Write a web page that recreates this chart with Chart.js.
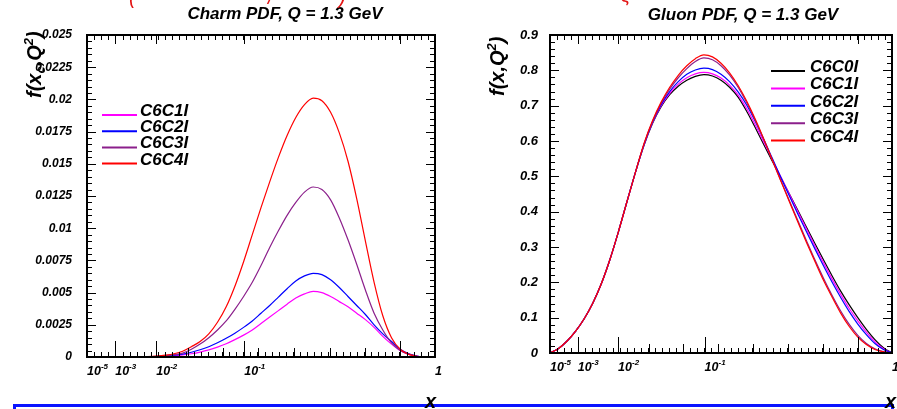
<!DOCTYPE html>
<html>
<head>
<meta charset="utf-8">
<title>Charm and gluon PDF, Q = 1.3 GeV</title>
<script src="https://cdn.jsdelivr.net/npm/chart.js@4.4.1/dist/chart.umd.min.js"></script>
<style>
  html, body { margin: 0; padding: 0; background: #fff; }
  body { position: relative; width: 897px; height: 409px; overflow: hidden; }
  canvas { display: block; }
  .pane { position: absolute; top: 0; height: 409px; z-index: 2; }
  #charmPane { left: 0; width: 448px; }
  #gluonPane { left: 448px; width: 449px; }
  #box { position: absolute; left: 13px; top: 404px; width: 881px; height: 20px;
         border: 3px solid #0a14ff; box-sizing: border-box; z-index: 1; }
  .note { position: absolute; z-index: 3; color: #e31414;
          font: italic 20px "Liberation Sans", Arial, sans-serif; line-height: 20px; }
</style>
</head>
<body>
<div class="note" style="left:129px;top:-13px">(</div>
<div class="note" style="left:268px;top:-13px">/</div>
<div class="note" style="left:339px;top:-13px">)</div>
<div class="note" style="left:621px;top:-15px">&#x3b6;</div>
<div id="box"></div>
<div class="pane" id="charmPane"><canvas id="charmChart" width="448" height="409"></canvas></div>
<div class="pane" id="gluonPane"><canvas id="gluonChart" width="449" height="409"></canvas></div>
<script>
// sample positions along the x axis, in axis units (0 = left edge, 1 = x of 1)
const uGrid = [0, 0.025, 0.05, 0.075, 0.1, 0.125, 0.15, 0.175, 0.2, 0.225,
    0.25, 0.275, 0.3, 0.325, 0.35, 0.375, 0.4, 0.425, 0.45, 0.475,
    0.5, 0.525, 0.55, 0.575, 0.6, 0.625, 0.65, 0.675, 0.7, 0.725,
    0.75, 0.775, 0.8, 0.825, 0.85, 0.875, 0.9, 0.925, 0.95, 0.975, 1];

// x axis labels (10^exp) and their positions
const xTickPos = [0, 0.081, 0.199, 0.452, 1];
const xTickBase = ['10', '10', '10', '10', '1'];
const xTickExp = ['-5', '-3', '-2', '-1', ''];
const xLongTicks = [0.081, 0.199, 0.452, 0.9];
const xMidTicks = [0.29, 0.39, 0.49, 0.595, 0.697, 0.798];

const charmYTicks = [0, 0.0025, 0.005, 0.0075, 0.01, 0.0125, 0.015, 0.0175, 0.02, 0.0225, 0.025];
const charmYLabels = ['0', '0.0025', '0.005', '0.0075', '0.01', '0.0125', '0.015', '0.0175', '0.02', '0.0225', '0.025'];
const gluonYTicks = [0, 0.1, 0.2, 0.3, 0.4, 0.5, 0.6, 0.7, 0.8, 0.9];
const gluonYLabels = ['0', '0.1', '0.2', '0.3', '0.4', '0.5', '0.6', '0.7', '0.8', '0.9'];

// charm PDF
const charmSets = ['C6C1I', 'C6C2I', 'C6C3I', 'C6C4I'];
const charmC1 = [0, 0, 0, 0, 0, 0, 0.00001, 0.00002, 0.00003, 0.00006,
    0.0001, 0.00016, 0.00025, 0.00038, 0.00055, 0.00077, 0.00103, 0.00135, 0.0017, 0.0021,
    0.0026, 0.0031, 0.0036, 0.0041, 0.00458, 0.0049, 0.0051, 0.0050, 0.0047, 0.0043,
    0.0039, 0.0034, 0.0029, 0.0023, 0.0016, 0.0010, 0.0005, 0.0002, 0.00005, 0, 0];
const charmC2 = [0, 0, 0, 0, 0, 0, 0.00001, 0.00002, 0.00004, 0.00008,
    0.00014, 0.00023, 0.00037, 0.00056, 0.0008, 0.0011, 0.00145, 0.00185, 0.0023, 0.0028,
    0.0034, 0.0040, 0.00465, 0.0053, 0.0059, 0.0063, 0.0065, 0.0064, 0.0060, 0.0054,
    0.0047, 0.0040, 0.0033, 0.0025, 0.0018, 0.0012, 0.0006, 0.00025, 0.00006, 0, 0];
const charmC3 = [0, 0, 0, 0, 0, 0, 0.00001, 0.00002, 0.00005, 0.0001,
    0.00018, 0.0003, 0.0006, 0.001, 0.0015, 0.0021, 0.0028, 0.0037, 0.0047, 0.0058,
    0.0071, 0.0085, 0.0098, 0.0110, 0.0120, 0.0128, 0.0132, 0.0130, 0.0122, 0.0108,
    0.0091, 0.0072, 0.0052, 0.0034, 0.0021, 0.0011, 0.0005, 0.0002, 0.00005, 0, 0];
const charmC4 = [0, 0, 0, 0, 0, 0, 0.00001, 0.00003, 0.00007, 0.00014,
    0.00025, 0.00045, 0.0008, 0.0012, 0.0018, 0.0027, 0.0039, 0.0055, 0.0074, 0.0095,
    0.0116, 0.0136, 0.0155, 0.0172, 0.0186, 0.0196, 0.0201, 0.0199, 0.0190, 0.0174,
    0.0152, 0.0123, 0.0090, 0.0058, 0.0032, 0.0015, 0.0006, 0.0002, 0.00004, 0, 0];

// gluon PDF
const gluonSets = ['C6C0I', 'C6C1I', 'C6C2I', 'C6C3I', 'C6C4I'];
const gluonC0 = [0, 0.013, 0.034, 0.062, 0.097, 0.141, 0.196, 0.264, 0.343, 0.428,
    0.512, 0.588, 0.650, 0.697, 0.731, 0.755, 0.772, 0.783, 0.788, 0.784,
    0.772, 0.752, 0.724, 0.684, 0.638, 0.590, 0.543, 0.497, 0.450, 0.403,
    0.356, 0.309, 0.263, 0.218, 0.175, 0.136, 0.100, 0.067, 0.038, 0.015, 0];
const gluonC1 = [0, 0.013, 0.034, 0.062, 0.097, 0.141, 0.196, 0.264, 0.343, 0.428,
    0.512, 0.589, 0.652, 0.700, 0.735, 0.761, 0.779, 0.790, 0.794, 0.790,
    0.778, 0.758, 0.730, 0.692, 0.646, 0.597, 0.548, 0.498, 0.449, 0.400,
    0.351, 0.302, 0.255, 0.209, 0.166, 0.126, 0.091, 0.059, 0.032, 0.012, 0];
const gluonC2 = [0, 0.013, 0.034, 0.062, 0.097, 0.141, 0.196, 0.264, 0.343, 0.428,
    0.512, 0.590, 0.654, 0.703, 0.740, 0.768, 0.789, 0.801, 0.806, 0.802,
    0.789, 0.768, 0.739, 0.702, 0.656, 0.605, 0.551, 0.497, 0.444, 0.393,
    0.343, 0.294, 0.246, 0.200, 0.157, 0.117, 0.082, 0.052, 0.027, 0.010, 0];
const gluonC3 = [0, 0.013, 0.034, 0.062, 0.097, 0.141, 0.196, 0.264, 0.343, 0.428,
    0.512, 0.592, 0.656, 0.707, 0.747, 0.779, 0.805, 0.825, 0.835, 0.830,
    0.813, 0.787, 0.752, 0.709, 0.659, 0.604, 0.546, 0.488, 0.431, 0.374,
    0.318, 0.263, 0.211, 0.163, 0.119, 0.081, 0.050, 0.027, 0.012, 0.004, 0];
const gluonC4 = [0, 0.013, 0.034, 0.062, 0.097, 0.141, 0.196, 0.264, 0.343, 0.428,
    0.512, 0.593, 0.658, 0.710, 0.752, 0.786, 0.813, 0.833, 0.844, 0.838,
    0.820, 0.793, 0.757, 0.713, 0.662, 0.606, 0.546, 0.487, 0.428, 0.370,
    0.313, 0.258, 0.205, 0.158, 0.113, 0.075, 0.045, 0.024, 0.010, 0.003, 0];

const FAMILY = '"Liberation Sans", Arial, Helvetica, sans-serif';
const font = (size) => `italic bold ${size}px ${FAMILY}`;

function curve(label, values, color, order) {
    return {
        label: label,
        data: values.map((v, i) => ({ x: uGrid[i], y: v })),
        borderColor: color,
        backgroundColor: color,
        borderWidth: 1.2,
        pointRadius: 0,
        fill: false,
        cubicInterpolationMode: 'monotone',
        order: order
    };
}

// draws text pieces one after another (for sub/superscripts)
function richText(ctx, parts, x, y) {
    ctx.textAlign = 'left';
    ctx.textBaseline = 'alphabetic';
    let cx = x;
    parts.forEach(p => {
        ctx.font = font(p.size);
        ctx.fillText(p.t, cx, y + (p.dy || 0));
        cx += ctx.measureText(p.t).width;
    });
}

// ROOT-like frame: box, inward ticks, titles, labels and legend
const rootFrame = {
    id: 'rootFrame',
    afterDatasetsDraw(chart, args, o) {
        const ctx = chart.ctx;
        const a = chart.chartArea;
        const xs = chart.scales.x, ys = chart.scales.y;
        ctx.save();
        ctx.strokeStyle = '#000';
        ctx.lineWidth = 1;
        ctx.beginPath();
        const vt = (x, y, len) => { ctx.moveTo(x, y); ctx.lineTo(x, y + len); };
        const ht = (x, y, len) => { ctx.moveTo(x, y); ctx.lineTo(x + len, y); };

        // y ticks on both sides
        o.yTicks.forEach((v, i) => {
            const py = Math.round(ys.getPixelForValue(v)) + 0.5;
            ht(a.left, py, 9); ht(a.right, py, -9);
            if (i < o.yTicks.length - 1) {
                const step = (o.yTicks[i + 1] - v) / 5;
                for (let k = 1; k < 5; k++) {
                    const my = Math.round(ys.getPixelForValue(v + k * step)) + 0.5;
                    ht(a.left, my, 5); ht(a.right, my, -5);
                }
            }
        });
        // x ticks, bottom and top
        for (let k = 1; k < 49; k++) {
            const px = Math.round(xs.getPixelForValue(k / 49)) + 0.5;
            vt(px, a.bottom, -5); vt(px, a.top, 5);
        }
        xMidTicks.forEach(u => {
            const px = Math.round(xs.getPixelForValue(u)) + 0.5;
            vt(px, a.bottom, -9);
        });
        xLongTicks.forEach(u => {
            const px = Math.round(xs.getPixelForValue(u)) + 0.5;
            vt(px, a.bottom, -16); vt(px, a.top, 9);
        });
        ctx.stroke();

        ctx.lineWidth = 2;
        ctx.strokeRect(a.left, a.top, a.right - a.left, a.bottom - a.top);
        ctx.restore();
    },
    afterDraw(chart, args, o) {
        const ctx = chart.ctx;
        const a = chart.chartArea;
        const xs = chart.scales.x;
        ctx.save();
        ctx.fillStyle = '#000';

        // panel title
        ctx.font = font(17);
        ctx.textAlign = 'center';
        ctx.textBaseline = 'alphabetic';
        ctx.fillText(o.title, o.titleX, o.titleY);

        // x labels
        xTickPos.forEach((u, i) => {
            const px = xs.getPixelForValue(u);
            const parts = [{ t: xTickBase[i], size: 12.5 }];
            if (xTickExp[i]) parts.push({ t: xTickExp[i], size: 8, dy: -6 });
            richText(ctx, parts, px, a.bottom + 18);
        });

        // axis titles
        ctx.save();
        ctx.translate(o.yTitleX, o.yTitleY);
        ctx.rotate(-Math.PI / 2);
        richText(ctx, o.yTitle, 0, 0);
        ctx.restore();

        ctx.font = font(20);
        ctx.textAlign = 'right';
        ctx.fillText('x', o.xTitleX, 408);

        // legend
        const lg = o.legend;
        chart.data.datasets.forEach((ds, i) => {
            const y = lg.y + i * lg.dy;
            ctx.strokeStyle = ds.borderColor;
            ctx.lineWidth = 2;
            ctx.beginPath();
            ctx.moveTo(lg.x1, y);
            ctx.lineTo(lg.x2, y);
            ctx.stroke();
            ctx.fillStyle = '#000';
            ctx.font = font(17);
            ctx.textAlign = 'left';
            ctx.fillText(ds.label, lg.tx, y + 1);
        });
        ctx.restore();
    }
};

function makeChart(id, cfg) {
    return new Chart(document.getElementById(id).getContext('2d'), {
        type: 'line',
        data: { datasets: cfg.datasets },
        options: {
            responsive: false,
            maintainAspectRatio: false,
            animation: false,
            devicePixelRatio: 1,
            layout: { padding: { left: 0, right: cfg.padRight, top: 35, bottom: 0 } },
            plugins: {
                legend: { display: false },
                tooltip: { enabled: false },
                rootFrame: cfg.frame
            },
            scales: {
                x: {
                    type: 'linear',
                    min: 0,
                    max: 1,
                    grid: { display: false, drawTicks: false },
                    border: { display: false },
                    ticks: { display: false },
                    afterFit: s => { s.height = cfg.xHeight; }
                },
                y: {
                    type: 'linear',
                    min: 0,
                    max: cfg.yTicks[cfg.yTicks.length - 1],
                    grid: { display: false, drawTicks: false },
                    border: { display: false },
                    afterBuildTicks: s => { s.ticks = cfg.yTicks.map(v => ({ value: v })); },
                    ticks: {
                        autoSkip: false,
                        padding: cfg.yPad,
                        color: '#000',
                        font: { family: FAMILY, size: cfg.yFont, weight: 'bold', style: 'italic' },
                        callback: (v, i) => cfg.yLabels[i]
                    },
                    afterFit: s => { s.width = cfg.yWidth; }
                }
            }
        },
        plugins: [rootFrame]
    });
}

makeChart('charmChart', {
    datasets: [
        curve(charmSets[0], charmC1, '#ff00ff', 3),
        curve(charmSets[1], charmC2, '#0000ff', 2),
        curve(charmSets[2], charmC3, '#8b1f8b', 1),
        curve(charmSets[3], charmC4, '#ff0000', 0)
    ],
    yTicks: charmYTicks,
    yLabels: charmYLabels,
    yFont: 12,
    yPad: 15,
    yWidth: 87,
    xHeight: 52,
    padRight: 13,
    frame: {
        title: 'Charm PDF, Q = 1.3 GeV',
        titleX: 285, titleY: 19,
        yTicks: charmYTicks,
        yTitle: [
            { t: 'f(x', size: 20 }, { t: 'c', size: 13, dy: 4 },
            { t: ',Q', size: 20 }, { t: '2', size: 13, dy: -8 }, { t: ')', size: 20 }
        ],
        yTitleX: 41, yTitleY: 98,
        xTitleX: 436,
        legend: { x1: 102, x2: 137, tx: 140, y: 115, dy: 16.2 }
    }
});

makeChart('gluonChart', {
    datasets: [
        curve(gluonSets[0], gluonC0, '#000000', 4),
        curve(gluonSets[1], gluonC1, '#ff00ff', 3),
        curve(gluonSets[2], gluonC2, '#0000ff', 2),
        curve(gluonSets[3], gluonC3, '#8b1f8b', 1),
        curve(gluonSets[4], gluonC4, '#ff0000', 0)
    ],
    yTicks: gluonYTicks,
    yLabels: gluonYLabels,
    yFont: 13,
    yPad: 12,
    yWidth: 102,
    xHeight: 56,
    padRight: 5,
    frame: {
        title: 'Gluon PDF, Q = 1.3 GeV',
        titleX: 295, titleY: 20,
        yTicks: gluonYTicks,
        yTitle: [
            { t: 'f(x,Q', size: 20 }, { t: '2', size: 13, dy: -8 }, { t: ')', size: 20 }
        ],
        yTitleX: 56, yTitleY: 96,
        xTitleX: 448,
        legend: { x1: 323, x2: 357, tx: 362, y: 71, dy: 17.4 }
    }
});
</script>
</body>
</html>
